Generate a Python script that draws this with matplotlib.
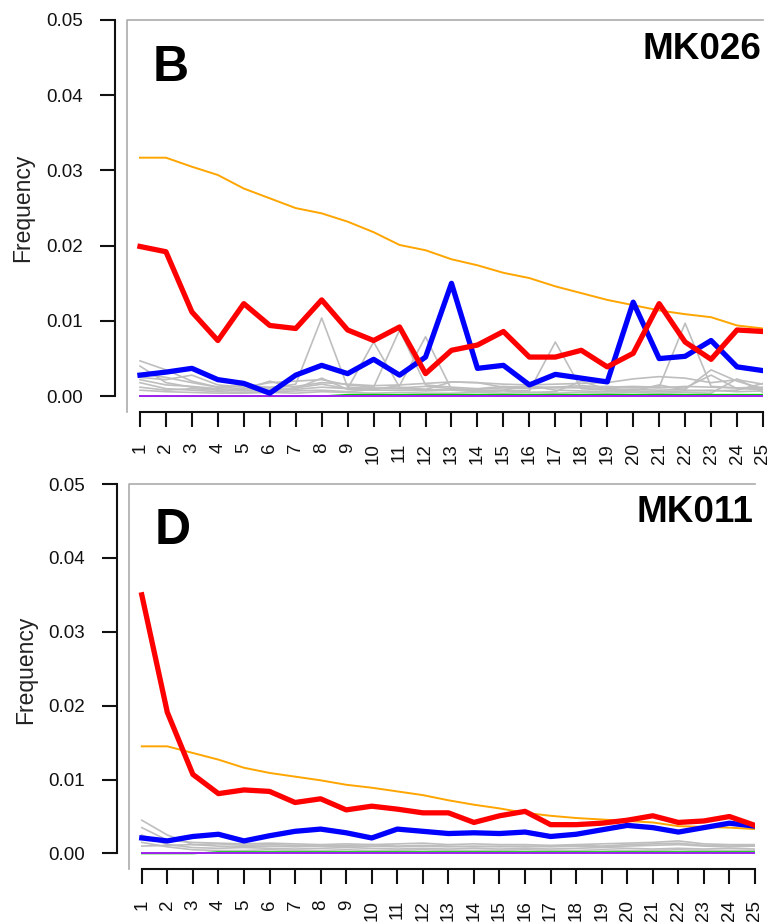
import matplotlib
matplotlib.use("Agg")
import matplotlib.pyplot as plt

plt.rcParams['font.family'] = ['Liberation Sans', 'DejaVu Sans']

positions = list(range(1, 26))
pos_labels = [str(p) for p in positions]
y_ticks = [0.00, 0.01, 0.02, 0.03, 0.04, 0.05]
y_labels = ["0.00", "0.01", "0.02", "0.03", "0.04", "0.05"]

# panel B - MK026
b_orange = [0.0317, 0.0317, 0.0305, 0.0294, 0.0276, 0.0263, 0.0250, 0.0243, 0.0232, 0.0218,
            0.0201, 0.0194, 0.0182, 0.0174, 0.0164, 0.0157, 0.0146, 0.0137, 0.0128, 0.0121,
            0.0114, 0.0109, 0.0105, 0.0094, 0.0090]
b_red = [0.0199, 0.0192, 0.0112, 0.0074, 0.0123, 0.0094, 0.0090, 0.0128, 0.0088, 0.0074,
         0.0092, 0.0030, 0.0061, 0.0068, 0.0086, 0.0052, 0.0052, 0.0061, 0.0039, 0.0057,
         0.0123, 0.0072, 0.0049, 0.0088, 0.0086]
b_blue = [0.0028, 0.0032, 0.0037, 0.0022, 0.0017, 0.0004, 0.0028, 0.0041, 0.0030, 0.0049,
          0.0028, 0.0052, 0.0150, 0.0037, 0.0041, 0.0015, 0.0029, 0.0024, 0.0019, 0.0125,
          0.0050, 0.0053, 0.0074, 0.0039, 0.0034]
b_green = [0.0000] * 8 + [0.0002] * 17
b_purple = [0.0000] * 25
b_gray = [
    [0.0047, 0.0035, 0.0020, 0.0012, 0.0010, 0.0011, 0.0016, 0.0104, 0.0012, 0.0010,
     0.0011, 0.0013, 0.0010, 0.0009, 0.0011, 0.0010, 0.0012, 0.0011, 0.0010, 0.0012,
     0.0011, 0.0013, 0.0012, 0.0011, 0.0012],
    [0.0040, 0.0018, 0.0012, 0.0009, 0.0007, 0.0008, 0.0009, 0.0012, 0.0010, 0.0072,
     0.0012, 0.0009, 0.0008, 0.0007, 0.0008, 0.0007, 0.0072, 0.0010, 0.0008, 0.0009,
     0.0008, 0.0009, 0.0035, 0.0020, 0.0010],
    [0.0025, 0.0022, 0.0028, 0.0015, 0.0012, 0.0018, 0.0020, 0.0022, 0.0015, 0.0012,
     0.0088, 0.0015, 0.0012, 0.0010, 0.0013, 0.0011, 0.0012, 0.0014, 0.0012, 0.0013,
     0.0012, 0.0097, 0.0013, 0.0011, 0.0010],
    [0.0018, 0.0010, 0.0008, 0.0006, 0.0005, 0.0006, 0.0007, 0.0008, 0.0006, 0.0009,
     0.0014, 0.0079, 0.0009, 0.0006, 0.0007, 0.0005, 0.0006, 0.0020, 0.0009, 0.0007,
     0.0006, 0.0007, 0.0008, 0.0006, 0.0007],
    [0.0030, 0.0025, 0.0018, 0.0012, 0.0014, 0.0012, 0.0013, 0.0018, 0.0016, 0.0014,
     0.0015, 0.0017, 0.0019, 0.0018, 0.0016, 0.0015, 0.0016, 0.0017, 0.0018, 0.0023,
     0.0026, 0.0024, 0.0018, 0.0022, 0.0016],
    [0.0012, 0.0008, 0.0010, 0.0008, 0.0009, 0.0020, 0.0011, 0.0016, 0.0010, 0.0011,
     0.0010, 0.0009, 0.0019, 0.0018, 0.0012, 0.0013, 0.0011, 0.0012, 0.0013, 0.0011,
     0.0012, 0.0011, 0.0028, 0.0010, 0.0009],
    [0.0008, 0.0006, 0.0005, 0.0004, 0.0004, 0.0005, 0.0004, 0.0006, 0.0005, 0.0004,
     0.0005, 0.0004, 0.0004, 0.0005, 0.0004, 0.0005, 0.0004, 0.0005, 0.0004, 0.0005,
     0.0004, 0.0005, 0.0004, 0.0023, 0.0005],
    [0.0022, 0.0015, 0.0013, 0.0010, 0.0008, 0.0009, 0.0010, 0.0024, 0.0009, 0.0008,
     0.0008, 0.0007, 0.0008, 0.0007, 0.0008, 0.0014, 0.0008, 0.0007, 0.0006, 0.0007,
     0.0015, 0.0008, 0.0007, 0.0008, 0.0017],
]

# panel D - MK011
d_orange = [0.0145, 0.0145, 0.0136, 0.0127, 0.0116, 0.0109, 0.0104, 0.0099, 0.0093, 0.0089,
            0.0084, 0.0079, 0.0072, 0.0066, 0.0061, 0.0055, 0.0051, 0.0048, 0.0046, 0.0044,
            0.0042, 0.0037, 0.0036, 0.0035, 0.0033]
d_red = [0.0350, 0.0191, 0.0107, 0.0081, 0.0086, 0.0084, 0.0069, 0.0074, 0.0059, 0.0064,
         0.0060, 0.0055, 0.0055, 0.0042, 0.0051, 0.0057, 0.0039, 0.0039, 0.0041, 0.0045,
         0.0051, 0.0042, 0.0044, 0.0050, 0.0038]
d_blue = [0.0021, 0.0017, 0.0023, 0.0026, 0.0017, 0.0024, 0.0030, 0.0033, 0.0028, 0.0021,
          0.0033, 0.0030, 0.0027, 0.0028, 0.0027, 0.0029, 0.0023, 0.0026, 0.0032, 0.0038,
          0.0035, 0.0029, 0.0035, 0.0041, 0.0037]
d_green = [0.0000] * 3 + [0.0002] * 22
d_purple = [0.0000] * 25
d_gray = [
    [0.0045, 0.0025, 0.0012, 0.0010, 0.0009, 0.0010, 0.0009, 0.0010, 0.0009, 0.0010,
     0.0009, 0.0010, 0.0009, 0.0010, 0.0009, 0.0010, 0.0009, 0.0010, 0.0009, 0.0010,
     0.0011, 0.0012, 0.0010, 0.0009, 0.0010],
    [0.0035, 0.0018, 0.0015, 0.0014, 0.0013, 0.0014, 0.0013, 0.0012, 0.0013, 0.0012,
     0.0013, 0.0014, 0.0012, 0.0013, 0.0012, 0.0012, 0.0011, 0.0012, 0.0013, 0.0014,
     0.0015, 0.0017, 0.0013, 0.0012, 0.0012],
    [0.0025, 0.0012, 0.0008, 0.0007, 0.0008, 0.0007, 0.0006, 0.0007, 0.0008, 0.0007,
     0.0006, 0.0007, 0.0006, 0.0007, 0.0006, 0.0007, 0.0006, 0.0007, 0.0008, 0.0007,
     0.0006, 0.0007, 0.0006, 0.0007, 0.0006],
    [0.0015, 0.0009, 0.0005, 0.0004, 0.0004, 0.0005, 0.0004, 0.0004, 0.0005, 0.0004,
     0.0004, 0.0005, 0.0004, 0.0004, 0.0004, 0.0005, 0.0004, 0.0004, 0.0005, 0.0004,
     0.0004, 0.0005, 0.0004, 0.0004, 0.0004],
    [0.0010, 0.0011, 0.0012, 0.0013, 0.0011, 0.0012, 0.0011, 0.0010, 0.0011, 0.0012,
     0.0010, 0.0011, 0.0010, 0.0009, 0.0010, 0.0009, 0.0010, 0.0011, 0.0010, 0.0012,
     0.0013, 0.0014, 0.0011, 0.0010, 0.0011],
]

FIG_W, FIG_H = 774, 922


def draw_panel(ax, gray, green, purple, orange, blue, red, letter, sample, outward_px):
    for g in gray:
        ax.plot(positions, g, color='#BEBEBE', lw=1.2, zorder=1)
    ax.plot(positions, green, color='#00CD00', lw=1.2, zorder=2)
    ax.plot(positions, purple, color='#A020F0', lw=1.4, zorder=2)
    ax.plot(positions, orange, color='#FFA500', lw=1.4, zorder=3)
    ax.plot(positions, blue, color='#0000FF', lw=3.8, zorder=4)
    ax.plot(positions, red, color='#FF0000', lw=3.8, zorder=5)

    ax.set_xlim(0.5, 25)
    ax.set_ylim(-0.00210, 0.05)

    # gray frame on left and top only
    ax.plot([0, 0, 1], [0, 1, 1], transform=ax.transAxes, color='#ABABAB',
            lw=1.2, clip_on=False, zorder=0)
    for s in ['top', 'right']:
        ax.spines[s].set_visible(False)
    ax.spines['left'].set_position(('outward', outward_px * 72 / 100))
    ax.spines['left'].set_bounds(0, 0.05)
    ax.spines['bottom'].set_bounds(1, 25)
    for s in ['left', 'bottom']:
        ax.spines[s].set_linewidth(1.5)
        ax.spines[s].set_color('#111111')

    ax.set_yticks(y_ticks, y_labels)
    ax.set_xticks(positions, pos_labels, rotation=90)
    ax.tick_params(axis='y', length=10.8, width=1.5, pad=12, labelsize=13.5,
                   colors='#111111')
    ax.tick_params(axis='x', length=10.8, width=1.5, pad=11.5, labelsize=13.5,
                   colors='#111111')

    ax.text(0.041, 0.844, letter, transform=ax.transAxes, fontsize=36,
            fontweight='bold', ha='left', va='baseline')
    ax.text(0.998, 0.90, sample, transform=ax.transAxes, fontsize=26.5,
            fontweight='bold', ha='right', va='baseline')


fig = plt.figure(figsize=(FIG_W / 100, FIG_H / 100), dpi=100)

# pixel boxes: left, top, right, bottom
ax_b = fig.add_axes([127 / FIG_W, 1 - 412 / FIG_H, 636 / FIG_W, 392 / FIG_H])
ax_d = fig.add_axes([129 / FIG_W, 1 - 869 / FIG_H, 626 / FIG_W, 385 / FIG_H])

draw_panel(ax_b, b_gray, b_green, b_purple, b_orange, b_blue, b_red, 'B', 'MK026', 12)
draw_panel(ax_d, d_gray, d_green, d_purple, d_orange, d_blue, d_red, 'D', 'MK011', 12)

fig.text(23 / FIG_W, 1 - 208 / FIG_H, 'Frequency', rotation=90, fontsize=16.5,
         ha='center', va='center', color='#222222')
fig.text(26 / FIG_W, 1 - 670 / FIG_H, 'Frequency', rotation=90, fontsize=16.5,
         ha='center', va='center', color='#222222')

fig.savefig('out.png', dpi=100)
